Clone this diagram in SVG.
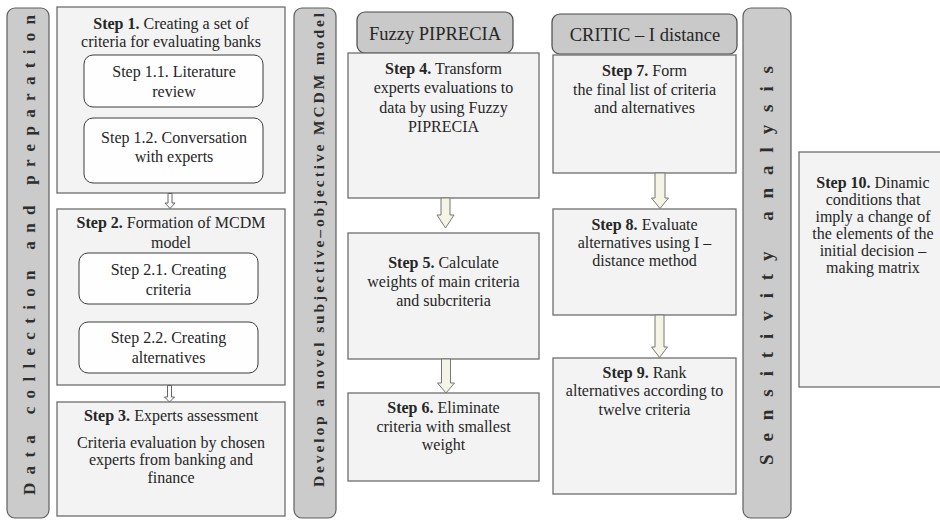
<svg xmlns="http://www.w3.org/2000/svg" width="940" height="520" viewBox="0 0 940 520">
<defs>
<style>
.bg{fill:#ffffff}
.strip{fill:#cbcbcb;stroke:#5f5f5f;stroke-width:1.2}
.head{fill:#c9c9c9;stroke:#4a4a4a;stroke-width:1.2}
.box{fill:#f3f3f3;stroke:#6e6e6e;stroke-width:1.3}
.sub{fill:#fefefe;stroke:#3c3c3c;stroke-width:1}
.t{font-family:"Liberation Serif","Times New Roman",serif;font-size:16px;fill:#262626;text-anchor:middle}
.h{font-family:"Liberation Serif","Times New Roman",serif;font-size:18.5px;fill:#262626;text-anchor:middle}
.b{font-weight:bold}
.v{font-family:"Liberation Serif","Times New Roman",serif;font-weight:bold;fill:#2e2e2e}
.sa{fill:#ffffff;stroke:#555555;stroke-width:0.9}
.ba{fill:#f4f5e6;stroke:#777777;stroke-width:1}
</style>
</defs>
<rect class="bg" x="0" y="0" width="940" height="520"/>

<g id="lane-data">
<rect class="strip" x="7" y="8" width="42" height="510" rx="8"/>
<text class="v" font-size="17" transform="translate(35,495) rotate(-90)" x="0" y="0" textLength="480" lengthAdjust="spacing">Data collection and preparation</text>
</g>
<g id="lane-model">
<rect class="strip" x="294" y="8" width="42" height="510" rx="8"/>
<text class="v" font-size="15.5" transform="translate(324,487) rotate(-90)" x="0" y="0" textLength="474" lengthAdjust="spacing">Develop a novel subjective–objective MCDM model</text>
</g>
<g id="lane-sensitivity">
<rect class="strip" x="743" y="8" width="48" height="510" rx="8"/>
<text class="v" font-size="19" transform="translate(773,465) rotate(-90)" x="0" y="0" textLength="399" lengthAdjust="spacing">Sensitivity analysis</text>
</g>

<g id="step1">
<rect class="box" x="57" y="7" width="228" height="186"/>
<text class="t" x="171" y="29"><tspan class="b">Step 1.</tspan> Creating a set of</text>
<text class="t" x="171" y="47">criteria for evaluating banks</text>
</g>
<g id="step1-1">
<rect class="sub" x="84" y="55" width="179" height="52" rx="9"/>
<text class="t" x="174" y="77">Step 1.1. Literature</text>
<text class="t" x="174" y="97">review</text>
</g>
<g id="step1-2">
<rect class="sub" x="84" y="118" width="179" height="65" rx="9"/>
<text class="t" x="174" y="143">Step 1.2. Conversation</text>
<text class="t" x="174" y="162">with experts</text>
</g>

<g id="step2">
<rect class="box" x="57" y="209" width="228" height="176"/>
<text class="t" x="171" y="228"><tspan class="b">Step 2.</tspan> Formation of MCDM</text>
<text class="t" x="171" y="248">model</text>
</g>
<g id="step2-1">
<rect class="sub" x="79" y="253" width="179" height="51" rx="9"/>
<text class="t" x="168.5" y="275">Step 2.1. Creating</text>
<text class="t" x="168.5" y="295">criteria</text>
</g>
<g id="step2-2">
<rect class="sub" x="79" y="322" width="179" height="51" rx="9"/>
<text class="t" x="168.5" y="343">Step 2.2. Creating</text>
<text class="t" x="168.5" y="363">alternatives</text>
</g>

<g id="step3">
<rect class="box" x="57" y="402" width="228" height="114"/>
<text class="t" x="171" y="421"><tspan class="b">Step 3.</tspan> Experts assessment</text>
<text class="t" x="171" y="448">Criteria evaluation by chosen</text>
<text class="t" x="171" y="465">experts from banking and</text>
<text class="t" x="171" y="483">finance</text>
</g>

<g id="fuzzy-piprecia">
<rect class="head" x="357" y="12" width="156" height="41" rx="8"/>
<text class="h" x="435" y="40">Fuzzy PIPRECIA</text>
</g>
<g id="step4">
<rect class="box" x="348" y="53" width="191" height="145"/>
<text class="t" x="443.5" y="74"><tspan class="b">Step 4.</tspan> Transform</text>
<text class="t" x="443.5" y="93">experts evaluations to</text>
<text class="t" x="443.5" y="113">data by using Fuzzy</text>
<text class="t" x="443.5" y="132">PIPRECIA</text>
</g>
<g id="step5">
<rect class="box" x="348" y="233" width="191" height="126"/>
<text class="t" x="443.5" y="268"><tspan class="b">Step 5.</tspan> Calculate</text>
<text class="t" x="443.5" y="287">weights of main criteria</text>
<text class="t" x="443.5" y="306">and subcriteria</text>
</g>
<g id="step6">
<rect class="box" x="348" y="393" width="191" height="88"/>
<text class="t" x="443.5" y="413"><tspan class="b">Step 6.</tspan> Eliminate</text>
<text class="t" x="443.5" y="432">criteria with smallest</text>
<text class="t" x="443.5" y="450">weight</text>
</g>

<g id="critic-i-distance">
<rect class="head" x="552" y="14" width="185" height="40" rx="8"/>
<text class="h" x="645" y="41">CRITIC – I distance</text>
</g>
<g id="step7">
<rect class="box" x="553" y="55" width="183" height="118"/>
<text class="t" x="644.5" y="76"><tspan class="b">Step 7.</tspan> Form</text>
<text class="t" x="644.5" y="95">the final list of criteria</text>
<text class="t" x="644.5" y="113">and alternatives</text>
</g>
<g id="step8">
<rect class="box" x="553" y="209" width="183" height="106"/>
<text class="t" x="644.5" y="230"><tspan class="b">Step 8.</tspan> Evaluate</text>
<text class="t" x="644.5" y="248">alternatives using I –</text>
<text class="t" x="644.5" y="266">distance method</text>
</g>
<g id="step9">
<rect class="box" x="553" y="358" width="183" height="136"/>
<text class="t" x="644.5" y="378"><tspan class="b">Step 9.</tspan> Rank</text>
<text class="t" x="644.5" y="396">alternatives according to</text>
<text class="t" x="644.5" y="415">twelve criteria</text>
</g>

<g id="step10">
<rect class="box" x="799" y="152" width="150" height="235"/>
<text class="t" x="873" y="188"><tspan class="b">Step 10.</tspan> Dinamic</text>
<text class="t" x="873" y="205">conditions that</text>
<text class="t" x="873" y="222">imply a change of</text>
<text class="t" x="873" y="239">the elements of the</text>
<text class="t" x="873" y="256">initial decision –</text>
<text class="t" x="873" y="273">making matrix</text>
</g>

<g id="connectors">
<path class="sa" d="M168,193.5 V203 H165 L170,208.5 L175,203 H172 V193.5 Z"/>
<path class="sa" d="M167.5,385.5 V397 H164.5 L169.5,402 L174.5,397 H171.5 V385.5 Z"/>
<path class="ba" d="M441,198 V215 H437 L445.5,228 L454,215 H450 V198 Z"/>
<path class="ba" d="M441.5,359 V383 H437.5 L446,393 L454.5,383 H450.5 V359 Z"/>
<path class="ba" d="M655,173 V198 H651.5 L660,208.5 L668.5,198 H665 V173 Z"/>
<path class="ba" d="M655,315 V347 H651.5 L659.5,357.5 L667.5,347 H664 V315 Z"/>
</g>
</svg>
